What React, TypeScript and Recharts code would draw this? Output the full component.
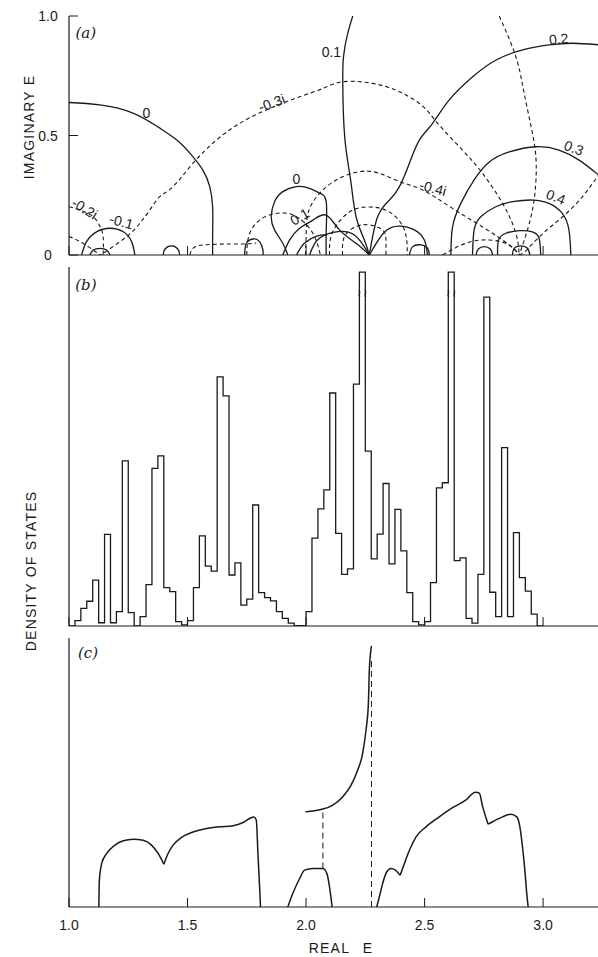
import React from 'react';
import { LineChart, Line, XAxis, YAxis, ReferenceDot } from 'recharts';

const FONT = '"Liberation Sans", "DejaVu Sans", Arial, sans-serif';
const INK = '#1a1a1a';
const TICK_LEN = 9;

// ---------- shared axis values ----------
const realTicks = [1.0, 1.5, 2.0, 2.5, 3.0];
const realDomain: [number, number] = [1.0, 3.24];
const imagTicks = [0, 0.5, 1.0];
const imagRightTicks = [0.5];

type P = [number, number];

// ---------- panel (a): contours, [Re E, Im E] ----------
// solid lines: contours of the real part
const reZeroLeft: P[] = [[1.0, 0.638], [1.13, 0.628], [1.27, 0.594], [1.383, 0.531], [1.455, 0.481], [1.509, 0.427], [1.564, 0.356], [1.594, 0.285], [1.606, 0.201], [1.606, 0.092], [1.606, 0]];
const reZeroMid: P[] = [[1.923, 0], [1.902, 0.049], [1.867, 0.105], [1.853, 0.16], [1.867, 0.223], [1.902, 0.265], [1.959, 0.286], [2.015, 0.279], [2.057, 0.259], [2.085, 0.223], [2.085, 0.1], [2.085, 0]];
const reOneTop: P[] = [[2.197, 1.0], [2.176, 0.928], [2.158, 0.83], [2.155, 0.718], [2.158, 0.579], [2.169, 0.439], [2.19, 0.3], [2.211, 0.16], [2.246, 0.063], [2.267, 0]];
const reOneMid: P[] = [[1.902, 0], [1.931, 0.063], [1.973, 0.112], [2.029, 0.146], [2.085, 0.167], [2.141, 0.105], [2.211, 0.049], [2.267, 0]];
const reTwo: P[] = [[2.267, 0], [2.302, 0.16], [2.352, 0.23], [2.394, 0.286], [2.436, 0.384], [2.478, 0.481], [2.534, 0.551], [2.604, 0.649], [2.703, 0.746], [2.802, 0.816], [2.914, 0.858], [3.025, 0.879], [3.124, 0.886], [3.24, 0.879]];
const reThree: P[] = [[2.611, 0], [2.618, 0.118], [2.653, 0.216], [2.709, 0.314], [2.773, 0.389], [2.857, 0.431], [2.971, 0.453], [3.067, 0.439], [3.152, 0.397], [3.24, 0.33]];
const reFour: P[] = [[2.702, 0], [2.709, 0.105], [2.737, 0.16], [2.8, 0.202], [2.871, 0.223], [2.955, 0.23], [3.025, 0.216], [3.081, 0.174], [3.109, 0.105], [3.117, 0]];
const reFive: P[] = [[2.808, 0], [2.812, 0.063], [2.843, 0.091], [2.899, 0.102], [2.955, 0.097], [2.983, 0.07], [2.99, 0]];
const reSix: P[] = [[2.871, 0], [2.878, 0.028], [2.906, 0.038], [2.934, 0.028], [2.944, 0]];
const reMinusOne: P[] = [[1.053, 0], [1.074, 0.056], [1.116, 0.097], [1.173, 0.112], [1.229, 0.097], [1.264, 0.056], [1.278, 0]];
const reLoopA: P[] = [[1.088, 0], [1.102, 0.021], [1.131, 0.028], [1.159, 0.021], [1.173, 0]];
const reLoopB: P[] = [[1.397, 0], [1.405, 0.025], [1.432, 0.038], [1.459, 0.025], [1.467, 0]];
const reLoopC: P[] = [[1.741, 0], [1.748, 0.049], [1.776, 0.067], [1.804, 0.056], [1.818, 0.021], [1.818, 0]];
const reLoopD: P[] = [[2.015, 0], [2.048, 0.063], [2.12, 0.096], [2.204, 0.084], [2.267, 0]];
const reLoopE: P[] = [[2.267, 0], [2.331, 0.096], [2.394, 0.121], [2.457, 0.105], [2.499, 0.063], [2.512, 0]];
const reLoopF: P[] = [[2.436, 0], [2.45, 0.035], [2.485, 0.042], [2.513, 0.028], [2.52, 0]];
const reLoopG: P[] = [[1.96, 0], [1.994, 0.05], [2.048, 0.08], [2.085, 0.084]];
const reLoopH: P[] = [[2.717, 0], [2.727, 0.025], [2.752, 0.035], [2.777, 0.025], [2.787, 0]];

// dashed lines: contours of the imaginary part
const imThree: P[] = [[1.131, 0], [1.144, 0.007], [1.243, 0.077], [1.299, 0.133], [1.341, 0.188], [1.383, 0.244], [1.439, 0.286], [1.523, 0.384], [1.622, 0.481], [1.72, 0.551], [1.832, 0.607], [1.973, 0.662], [2.071, 0.697], [2.155, 0.725], [2.281, 0.718], [2.394, 0.683], [2.492, 0.623], [2.555, 0.551], [2.66, 0.439], [2.744, 0.342], [2.829, 0.216], [2.885, 0.091], [2.899, 0]];
const imTop: P[] = [[2.815, 1.0], [2.885, 0.83], [2.92, 0.677], [2.955, 0.509], [2.971, 0.377], [2.962, 0.23], [2.934, 0.105], [2.899, 0]];
const imFour: P[] = [[1.998, 0], [2.001, 0.105], [2.015, 0.195], [2.071, 0.272], [2.141, 0.321], [2.225, 0.349], [2.309, 0.342], [2.394, 0.307], [2.492, 0.272], [2.618, 0.195], [2.744, 0.118], [2.857, 0.042], [2.899, 0]];
const imTwo: P[] = [[1.0, 0.202], [1.046, 0.188], [1.102, 0.16], [1.131, 0.119], [1.144, 0.077], [1.144, 0]];
const imLeftLow: P[] = [[1.0, 0.077], [1.046, 0.056], [1.102, 0.021], [1.131, 0]];
const imFlat: P[] = [[1.509, 0], [1.523, 0.028], [1.565, 0.042], [1.664, 0.046], [1.733, 0.046], [1.79, 0.05]];
const imArcA: P[] = [[1.75, 0], [1.76, 0.084], [1.81, 0.15], [1.89, 0.176], [1.96, 0.16], [2.02, 0.105], [2.05, 0.04], [2.06, 0]];
const imArcB: P[] = [[2.154, 0], [2.162, 0.077], [2.211, 0.119], [2.267, 0.126], [2.323, 0.105], [2.337, 0.063], [2.337, 0]];
const imArcC: P[] = [[2.099, 0], [2.112, 0.096], [2.183, 0.18], [2.267, 0.201], [2.352, 0.18], [2.415, 0.105], [2.427, 0]];
const imRightLow: P[] = [[2.576, 0], [2.674, 0.049], [2.773, 0.063], [2.857, 0.042], [2.899, 0]];
const imRightUp: P[] = [[3.24, 0.343], [3.128, 0.202], [3.0, 0.091], [2.93, 0.02], [2.899, 0]];

const solidContours = [reZeroLeft, reZeroMid, reOneTop, reOneMid, reTwo, reThree, reFour, reFive, reSix, reMinusOne, reLoopA, reLoopB, reLoopC, reLoopD, reLoopE, reLoopF, reLoopG, reLoopH];
const dashedContours = [imThree, imTop, imFour, imTwo, imLeftLow, imFlat, imArcA, imArcB, imArcC, imRightLow, imRightUp];

const contourLabels = [
  { text: '0', x: 1.327, y: 0.593, angle: 0 },
  { text: '-0.3i', x: 1.855, y: 0.636, angle: -20 },
  { text: '-0.2i', x: 1.066, y: 0.195, angle: 32 },
  { text: '-0.1', x: 1.221, y: 0.14, angle: 15 },
  { text: '0.1', x: 2.107, y: 0.851, angle: 0 },
  { text: '0.2', x: 3.066, y: 0.904, angle: -5 },
  { text: '0.3', x: 3.13, y: 0.448, angle: 20 },
  { text: '0.4', x: 3.054, y: 0.243, angle: 22 },
  { text: '-0.4i', x: 2.535, y: 0.28, angle: 15 },
  { text: '0', x: 1.959, y: 0.318, angle: 0 },
  { text: '0.1', x: 1.973, y: 0.16, angle: -30 },
];

// ---------- panel (b): histogram density of states ----------
const dosBinStart = 1.0;
const dosBinWidth = 0.025;
const dosValues = [
  0, 1.5, 4.9, 6.9, 12.8, 0.9, 25.5, 0.9, 4.0, 46.0,
  3.7, 0, 2.6, 11.5, 43.9, 47.4, 10.7, 9.6, 1.2, 0.3,
  1.5, 10.7, 25.1, 16.7, 15.3, 69.4, 64.1, 14.2, 17.6, 5.8,
  7.5, 33.7, 9.3, 7.9, 7.0, 4.0, 2.1, 0.8, 0.1, 0.1,
  4.0, 24.5, 32.6, 37.9, 64.9, 25.8, 14.4, 15.9, 67.4, 98.6,
  48.7, 18.7, 25.6, 39.7, 17.3, 32.5, 20.9, 9.3, 1.2, 0.3,
  1.2, 12.1, 38.5, 39.9, 98.6, 18.2, 19.0, 2.1, 0.8, 14.4,
  91.6, 9.4, 2.6, 49.7, 2.6, 26.0, 13.5, 9.7, 3.3, 0,
];
const brokenBins = [49, 64];
const breakMarkLevel = 92.8;

// ---------- panel (c): smooth density of states ----------
const bandLeftA: P[] = [[1.126, 0], [1.128, 9.9], [1.138, 16.2], [1.159, 19.9], [1.194, 23.0], [1.229, 24.6], [1.271, 25.2], [1.313, 24.8], [1.348, 23.0], [1.376, 19.9], [1.4, 15.9]];
const bandLeftB: P[] = [[1.4, 15.9], [1.418, 19.9], [1.439, 23.0], [1.475, 25.9], [1.523, 27.9], [1.58, 29.2], [1.636, 29.8], [1.692, 30.2], [1.734, 31.4], [1.762, 32.9], [1.78, 33.5], [1.79, 32.3], [1.797, 19.9], [1.804, 7.5], [1.808, 0]];
const bandMid: P[] = [[1.923, 0], [1.944, 5.0], [1.973, 10.6], [1.994, 13.7], [2.029, 14.3], [2.071, 14.3], [2.088, 12.4], [2.099, 7.5], [2.11, 0]];
const bandUpper: P[] = [[1.998, 35.4], [2.036, 35.8], [2.071, 36.4], [2.113, 37.9], [2.155, 41.0], [2.19, 45.3], [2.218, 50.9], [2.239, 57.2], [2.253, 65.8], [2.263, 75.8], [2.267, 88.2], [2.272, 94.4], [2.276, 97.1]];
const bandRightA: P[] = [[2.298, 0], [2.309, 3.7], [2.323, 8.7], [2.34, 13.0], [2.359, 14.3], [2.377, 13.7], [2.397, 11.8]];
const bandRightB: P[] = [[2.397, 11.8], [2.415, 16.2], [2.436, 21.1], [2.464, 26.1], [2.506, 29.8], [2.562, 33.5], [2.618, 36.9], [2.675, 39.8], [2.714, 42.7], [2.731, 42.3], [2.745, 37.3], [2.768, 30.8]];
const bandRightC: P[] = [[2.768, 30.8], [2.787, 31.7], [2.829, 33.5], [2.864, 34.5], [2.889, 33.5], [2.902, 29.8], [2.913, 22.4], [2.923, 13.7], [2.931, 5.0], [2.937, 0]];
const connectorA: P[] = [[2.071, 14.3], [2.071, 36.4]];
const connectorB: P[] = [[2.276, 0], [2.276, 93]];

const smoothBands = [bandLeftA, bandLeftB, bandMid, bandUpper, bandRightA, bandRightB, bandRightC];
const dashedConnectors = [connectorA, connectorB];

// ---------- helpers ----------
const toPts = (arr: P[]) => arr.map(([x, y]) => ({ x, y }));
const dosData = [
  ...dosValues.map((v, i) => ({ x: dosBinStart + i * dosBinWidth, y: v })),
  { x: dosBinStart + dosValues.length * dosBinWidth, y: 0 },
];

const axisLineStyle = { stroke: INK, strokeWidth: 1.2 };

const BottomTick = (p: any) => (
  <g>
    <line x1={p.x} x2={p.x} y1={p.y} y2={p.y - TICK_LEN} stroke={INK} strokeWidth={1} />
    {p.showLabel ? (
      <text x={p.x} y={p.y + 23} textAnchor="middle" fontFamily={FONT} fontSize={14} fill={INK}>
        {Number(p.payload.value).toFixed(1)}
      </text>
    ) : null}
  </g>
);

const TopTick = (p: any) => (
  <line x1={p.x} x2={p.x} y1={p.y} y2={p.y + TICK_LEN} stroke={INK} strokeWidth={1} />
);

const LeftTick = (p: any) => {
  const v = Number(p.payload.value);
  return (
    <g>
      <line x1={p.x} x2={p.x + TICK_LEN} y1={p.y} y2={p.y} stroke={INK} strokeWidth={1} />
      <text x={p.x - 21} y={p.y + 5} textAnchor="middle" fontFamily={FONT} fontSize={14} fill={INK}>
        {v === 0 ? '0' : v.toFixed(1)}
      </text>
    </g>
  );
};

const RightTick = (p: any) => (
  <line x1={p.x} x2={p.x - TICK_LEN} y1={p.y} y2={p.y} stroke={INK} strokeWidth={1} />
);

const PanelTag = ({ x, y, text, xAxisId, yAxisId }: any) => (
  <ReferenceDot
    x={x}
    y={y}
    r={0}
    fill="none"
    stroke="none"
    xAxisId={xAxisId}
    yAxisId={yAxisId}
    label={{ value: text, position: 'center', fill: INK, fontSize: 15, fontStyle: 'italic', fontFamily: '"DejaVu Serif", serif' }}
  />
);

const commonAxes = (bottomHeight: number, showLabels: boolean) => [
  <XAxis
    key="xb"
    xAxisId="x"
    type="number"
    dataKey="x"
    domain={realDomain}
    ticks={realTicks}
    interval={0}
    allowDataOverflow
    height={bottomHeight}
    tickSize={0}
    tickMargin={0}
    tickLine={false}
    axisLine={axisLineStyle}
    tick={<BottomTick showLabel={showLabels} />}
  />,
  <XAxis
    key="xt"
    xAxisId="top"
    orientation="top"
    type="number"
    dataKey="x"
    domain={realDomain}
    ticks={realTicks}
    interval={0}
    allowDataOverflow
    height={0}
    tickSize={0}
    tickMargin={0}
    tickLine={false}
    axisLine={axisLineStyle}
    tick={<TopTick />}
  />,
];

function PanelA() {
  return (
    <LineChart width={602} height={267} margin={{ top: 16, right: 2, bottom: 0, left: 0 }}>
      {commonAxes(12, false)}
      <YAxis
        yAxisId="y"
        type="number"
        domain={[0, 1]}
        ticks={imagTicks}
        interval={0}
        allowDataOverflow
        width={69}
        tickSize={0}
        tickMargin={0}
        tickLine={false}
        axisLine={axisLineStyle}
        tick={<LeftTick />}
      />
      <YAxis
        yAxisId="yr"
        orientation="right"
        type="number"
        domain={[0, 1]}
        ticks={imagRightTicks}
        interval={0}
        width={0}
        tickSize={0}
        tickMargin={0}
        tickLine={false}
        axisLine={axisLineStyle}
        tick={<RightTick />}
      />
      {solidContours.map((c, i) => (
        <Line key={`s${i}`} data={toPts(c)} dataKey="y" xAxisId="x" yAxisId="y" type="natural" stroke={INK} strokeWidth={1.3} dot={false} activeDot={false} isAnimationActive={false} />
      ))}
      {dashedContours.map((c, i) => (
        <Line key={`d${i}`} data={toPts(c)} dataKey="y" xAxisId="x" yAxisId="y" type="natural" stroke={INK} strokeWidth={1.1} strokeDasharray="4 3" dot={false} activeDot={false} isAnimationActive={false} />
      ))}
      {contourLabels.map((l, i) => (
        <ReferenceDot
          key={`l${i}`}
          x={l.x}
          y={l.y}
          r={0}
          fill="none"
          stroke="none"
          xAxisId="x"
          yAxisId="y"
          label={{ value: l.text, position: 'center', angle: l.angle, fill: INK, fontSize: 14, fontFamily: FONT }}
        />
      ))}
      {PanelTag({ x: 1.071, y: 0.929, text: '(a)', xAxisId: 'x', yAxisId: 'y' })}
      <text x={29} y={127} transform="rotate(-90 29 127)" textAnchor="middle" dominantBaseline="central" fontFamily={FONT} fontSize={14} letterSpacing={1.2} fill={INK}>
        IMAGINARY E
      </text>
    </LineChart>
  );
}

function PanelB() {
  return (
    <LineChart width={602} height={400} margin={{ top: 10, right: 2, bottom: 0, left: 0 }}>
      {commonAxes(31, false)}
      <YAxis yAxisId="y" type="number" domain={[0, 100]} allowDataOverflow width={69} tick={false} tickLine={false} axisLine={axisLineStyle} />
      <Line data={dosData} dataKey="y" xAxisId="x" yAxisId="y" type="stepAfter" stroke={INK} strokeWidth={1.3} dot={false} activeDot={false} isAnimationActive={false} />
      {brokenBins.flatMap((b) => [b, b + 1]).map((edge, i) => (
        <ReferenceDot
          key={`bk${i}`}
          x={dosBinStart + edge * dosBinWidth}
          y={breakMarkLevel}
          r={0}
          fill="none"
          stroke="none"
          xAxisId="x"
          yAxisId="y"
          label={{ value: '≀', position: 'center', fill: INK, fontSize: 11, fontFamily: '"DejaVu Sans", sans-serif' }}
        />
      ))}
      {PanelTag({ x: 1.071, y: 95, text: '(b)', xAxisId: 'x', yAxisId: 'y' })}
      <text x={31} y={314} transform="rotate(-90 31 314)" textAnchor="middle" dominantBaseline="central" fontFamily={FONT} fontSize={14} letterSpacing={1.2} fill={INK}>
        DENSITY OF STATES
      </text>
    </LineChart>
  );
}

function PanelC() {
  return (
    <LineChart width={602} height={329} margin={{ top: 10, right: 2, bottom: 0, left: 0 }}>
      {commonAxes(50, true)}
      <YAxis yAxisId="y" type="number" domain={[0, 100]} allowDataOverflow width={69} tick={false} tickLine={false} axisLine={axisLineStyle} />
      {smoothBands.map((c, i) => (
        <Line key={`b${i}`} data={toPts(c)} dataKey="y" xAxisId="x" yAxisId="y" type="monotone" stroke={INK} strokeWidth={1.5} dot={false} activeDot={false} isAnimationActive={false} />
      ))}
      {dashedConnectors.map((c, i) => (
        <Line key={`c${i}`} data={toPts(c)} dataKey="y" xAxisId="x" yAxisId="y" type="linear" stroke={INK} strokeWidth={1} strokeDasharray="6 4" dot={false} activeDot={false} isAnimationActive={false} />
      ))}
      {PanelTag({ x: 1.08, y: 94.5, text: '(c)', xAxisId: 'x', yAxisId: 'y' })}
      <text x={341} y={325} textAnchor="middle" fontFamily={FONT} fontSize={14} letterSpacing={1.2} style={{ wordSpacing: 8 }} fill={INK}>
        REAL E
      </text>
    </LineChart>
  );
}

export default function App() {
  return (
    <div style={{ position: 'absolute', left: 0, top: 0, width: 598, height: 957, overflow: 'hidden', background: '#fff' }}>
      <div style={{ position: 'absolute', left: 0, top: 0 }}>
        <PanelA />
      </div>
      <div style={{ position: 'absolute', left: 0, top: 257 }}>
        <PanelB />
      </div>
      <div style={{ position: 'absolute', left: 0, top: 628 }}>
        <PanelC />
      </div>
    </div>
  );
}
